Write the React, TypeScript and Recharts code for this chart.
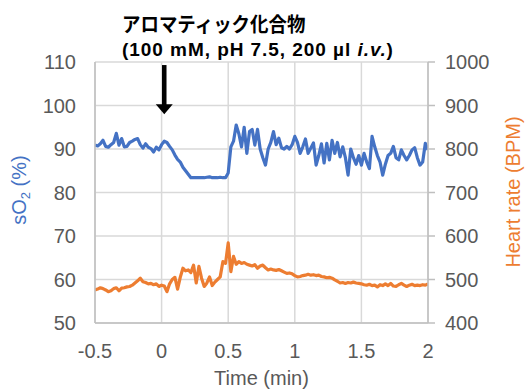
import React from 'react';
import { LineChart, Line, XAxis, YAxis, CartesianGrid, ReferenceLine } from 'recharts';

// sample times (min)
const TIME = [
  -0.5, -0.48, -0.46, -0.44, -0.42, -0.4, -0.38, -0.36, -0.34, -0.32, -0.3, -0.28, -0.26,
  -0.24, -0.22, -0.2, -0.18, -0.16, -0.14, -0.12, -0.1, -0.08, -0.06, -0.04, -0.02,
  0, 0.02, 0.04, 0.06, 0.08, 0.1, 0.12, 0.14, 0.16, 0.18, 0.2, 0.22, 0.24,
  0.26, 0.28, 0.3, 0.32, 0.34, 0.36, 0.38, 0.4, 0.42, 0.44, 0.46, 0.48,
  0.5, 0.52, 0.54, 0.56, 0.58, 0.6, 0.62, 0.64, 0.66, 0.68, 0.7, 0.72, 0.74,
  0.76, 0.78, 0.8, 0.82, 0.84, 0.86, 0.88, 0.9, 0.92, 0.94, 0.96, 0.98,
  1, 1.02, 1.04, 1.06, 1.08, 1.1, 1.12, 1.14, 1.16, 1.18, 1.2, 1.22, 1.24,
  1.26, 1.28, 1.3, 1.32, 1.34, 1.36, 1.38, 1.4, 1.42, 1.44, 1.46, 1.48,
  1.5, 1.52, 1.54, 1.56, 1.58, 1.6, 1.62, 1.64, 1.66, 1.68, 1.7, 1.72, 1.74,
  1.76, 1.78, 1.8, 1.82, 1.84, 1.86, 1.88, 1.9, 1.92, 1.94, 1.96, 1.98, 2,
];

// sO2 (%), left axis
const SO2 = [
  90.9, 90.7, 91.2, 92.0, 90.6, 90.4, 91.0, 91.5, 93.6, 90.9, 92.4, 90.5, 90.6,
  91.5, 91.8, 92.2, 92.4, 91.0, 90.2, 91.2, 90.4, 90.1, 89.3, 90.4, 89.8,
  91.0, 91.8, 91.5, 90.6, 89.8, 88.6, 87.6, 87.0, 85.8, 85.0, 84.2, 83.4, 83.4,
  83.4, 83.4, 83.4, 83.4, 83.5, 83.6, 83.4, 83.4, 83.4, 83.5, 83.4, 83.4,
  84.5, 90.5, 91.8, 95.5, 93.5, 90.5, 95.0, 89.0, 94.0, 94.5, 90.9, 94.5, 90.0,
  88.0, 86.3, 90.0, 91.5, 94.0, 91.0, 92.5, 90.3, 90.0, 90.6, 90.0, 91.0,
  92.9, 91.5, 89.0, 90.5, 92.3, 89.0, 90.2, 91.4, 86.3, 88.5, 91.2, 86.8, 91.3,
  87.5, 92.0, 89.0, 91.5, 88.2, 90.5, 88.0, 84.0, 90.0, 88.0, 86.5, 88.5,
  86.3, 89.0, 87.0, 85.5, 92.9, 90.5, 88.5, 87.0, 84.0, 86.5, 88.5, 89.0, 90.6,
  88.0, 87.5, 89.8, 88.5, 87.5, 88.5, 89.8, 90.3, 88.0, 86.3, 87.0, 91.3, 89.8,
];

// heart rate (BPM), right axis
const HEART_RATE = [
  476, 478, 481, 479, 476, 472, 474, 479, 481, 474, 480, 481, 483,
  484, 487, 492, 497, 503, 495, 493, 490, 491, 488, 490, 484,
  487, 485, 472, 490, 500, 505, 478, 505, 526, 520, 522, 516, 533,
  492, 530, 503, 484, 492, 506, 486, 494, 500, 506, 541, 537,
  584, 518, 553, 535, 541, 537, 539, 535, 533, 531, 534, 526, 531,
  533, 527, 522, 524, 522, 521, 523, 520, 517, 514, 515, 513,
  509, 506, 507, 509, 510, 512, 510, 511, 509, 510, 507, 506, 504,
  505, 503, 499, 496, 492, 493, 491, 493, 492, 494, 492, 491,
  490, 488, 487, 489, 486, 487, 483, 488, 486, 490, 486, 491, 485,
  484, 488, 491, 487, 484, 487, 489, 486, 487, 486, 488, 487, 490,
];

const X_TICKS = [-0.5, 0, 0.5, 1, 1.5, 2];
const SO2_TICKS = [50, 60, 70, 80, 90, 100, 110];
const HR_TICKS = [400, 500, 600, 700, 800, 900, 1000];

const INJECTION_TIME = 0.02;
const NOTE_TITLE = 'アロマティック化合物';

const FONT = '"Liberation Sans", Arial, Helvetica, sans-serif';
const BLUE = '#4472C4';
const ORANGE = '#ED7D31';
const GREY = '#595959';

const chartData = TIME.map((t, i) => ({ t, so2: SO2[i], hr: HEART_RATE[i] }));

// arrow drawn along the reference segment, head at the lower end
const ArrowShape = (props: any) => {
  const { x1, y1, x2, y2 } = props;
  const headH = 10;
  const headW = 8.5;
  return (
    <g>
      <line x1={x1} y1={y1} x2={x2} y2={y2 - headH + 1} stroke="#000" strokeWidth={4.5} />
      <polygon
        points={`${x2 - headW},${y2 - headH} ${x2 + headW},${y2 - headH} ${x2},${y2}`}
        fill="#000"
      />
    </g>
  );
};

export default function App() {
  const tick = { fill: GREY, fontSize: 20, fontFamily: FONT };
  return (
    <div style={{ position: 'absolute', left: 0, top: 0, width: 525, height: 389, background: '#fff' }}>
      <LineChart
        width={525}
        height={389}
        data={chartData}
        margin={{ top: 62, right: 0, bottom: 0, left: 0 }}
      >
        <CartesianGrid yAxisId="left" stroke="#d9d9d9" strokeWidth={1.5} />
        <XAxis
          dataKey="t"
          type="number"
          domain={[-0.5, 2]}
          ticks={X_TICKS}
          allowDataOverflow
          height={66}
          tickLine={false}
          tickSize={0}
          tickMargin={21}
          axisLine={{ stroke: '#bfbfbf', strokeWidth: 1.5 }}
          tick={tick}
        />
        <YAxis
          yAxisId="left"
          domain={[50, 110]}
          ticks={SO2_TICKS}
          width={95}
          tickLine={false}
          tickSize={0}
          tickMargin={19}
          axisLine={{ stroke: '#bfbfbf', strokeWidth: 1.5 }}
          tick={tick}
        />
        <YAxis
          yAxisId="right"
          orientation="right"
          domain={[400, 1000]}
          ticks={HR_TICKS}
          width={97}
          tickSize={7}
          tickMargin={10}
          tickLine={{ stroke: '#bfbfbf', strokeWidth: 1.5 }}
          axisLine={{ stroke: '#bfbfbf', strokeWidth: 1.5 }}
          tick={{ ...tick, textAnchor: 'start' }}
        />
        <Line
          yAxisId="right"
          dataKey="hr"
          type="linear"
          stroke={ORANGE}
          strokeWidth={3.2}
          strokeLinejoin="round"
          dot={false}
          isAnimationActive={false}
        />
        <Line
          yAxisId="left"
          dataKey="so2"
          type="linear"
          stroke={BLUE}
          strokeWidth={3.2}
          strokeLinejoin="round"
          dot={false}
          isAnimationActive={false}
        />
        <ReferenceLine
          yAxisId="left"
          segment={[
            { x: INJECTION_TIME, y: 109.3 },
            { x: INJECTION_TIME, y: 98 },
          ]}
          shape={ArrowShape}
        />
      </LineChart>
      <svg
        width={525}
        height={389}
        style={{ position: 'absolute', left: 0, top: 0, pointerEvents: 'none' }}
      >
        <text
          transform="translate(122,32) scale(0.9,1)"
          fontFamily='"Noto Sans CJK JP", sans-serif'
          fontWeight="bold"
          fontSize={20.5}
          fill="#000"
        >
          {NOTE_TITLE}
        </text>
        <text x={122} y={56} fontFamily={FONT} fontWeight="bold" fontSize={19} letterSpacing={0.95} fill="#000">
          (100 mM, pH 7.5, 200 µl <tspan fontStyle="italic">i.v.</tspan>)
        </text>
        <text x={261.5} y={385} textAnchor="middle" fontFamily={FONT} fontSize={20} fill={GREY}>
          Time (min)
        </text>
        <text
          transform="translate(26,190) rotate(-90)"
          textAnchor="middle"
          fontFamily={FONT}
          fontSize={20}
          fill={BLUE}
        >
          sO<tspan fontSize={13} dy={4}>2</tspan>
          <tspan dy={-4}> (%)</tspan>
        </text>
        <text
          transform="translate(520,192) rotate(-90)"
          textAnchor="middle"
          fontFamily={FONT}
          fontSize={20}
          fill={ORANGE}
        >
          Heart rate (BPM)
        </text>
      </svg>
    </div>
  );
}
